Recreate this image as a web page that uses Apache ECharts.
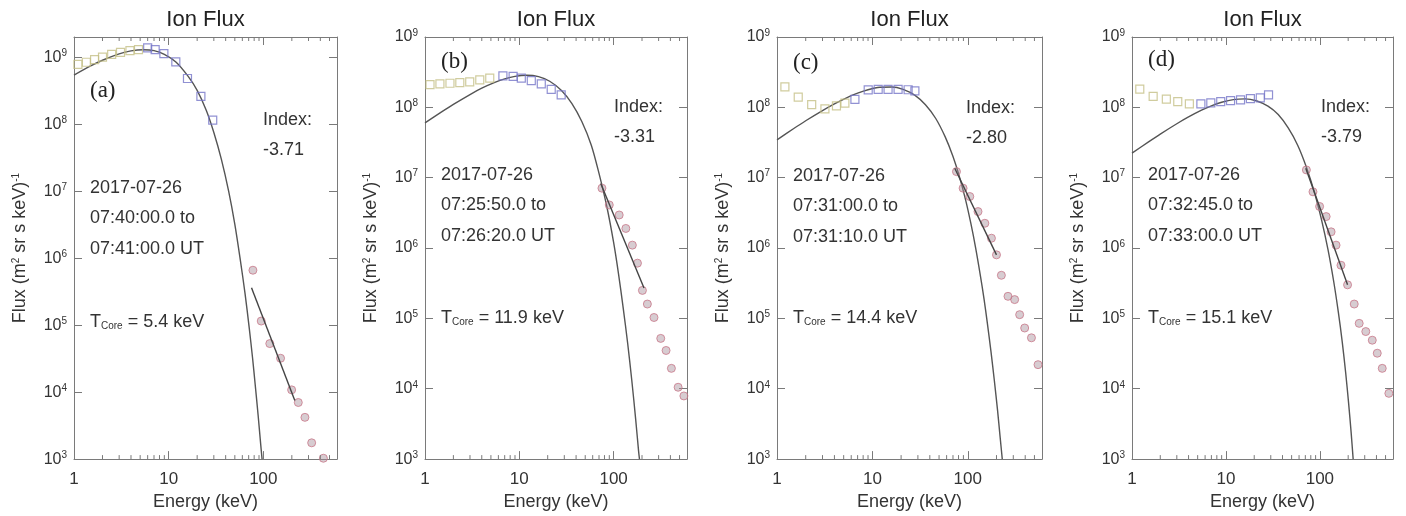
<!DOCTYPE html>
<html>
<head>
<meta charset="utf-8">
<title>Ion Flux</title>
<script src="https://cdn.jsdelivr.net/npm/echarts@6/dist/echarts.min.js"></script>
<style>
html, body { margin: 0; padding: 0; background: #fff; }
#chart { width: 1406px; height: 516px; }
</style>
</head>
<body>
<div id="chart"></div>
<script>
// ---- text of each panel ----
var panelTags = ['(a)', '(b)', '(c)', '(d)'];
var fitIndex = ['-3.71', '-3.31', '-2.80', '-3.79'];
var dayText = ['2017-07-26', '2017-07-26', '2017-07-26', '2017-07-26'];
var timeFrom = ['07:40:00.0 to', '07:25:50.0 to', '07:31:00.0 to', '07:32:45.0 to'];
var timeTo = ['07:41:00.0 UT', '07:26:20.0 UT', '07:31:10.0 UT', '07:33:00.0 UT'];
var tCore = ['5.4', '11.9', '14.4', '15.1'];

// tick labels
var energyLabels = [1, 10, 100];
var fluxExponents = [3, 4, 5, 6, 7, 8, 9];
var energyMinor = [2, 3, 4, 5, 6, 7, 8, 9, 20, 30, 40, 50, 60, 70, 80, 90, 200, 300, 400, 500];
var fluxMax = [2e9, 1e9, 1e9, 1e9];

// ---- data: [energy keV, flux] ----
// (a)
var lowA = [[1.1, 7.8e8], [1.35, 8.4e8], [1.65, 9.2e8], [2.0, 1.0e9], [2.5, 1.1e9], [3.1, 1.18e9], [3.9, 1.25e9], [4.8, 1.3e9]];
var midA = [[6.0, 1.38e9], [7.2, 1.3e9], [8.9, 1.13e9], [11.9, 8.5e8], [15.8, 4.8e8], [21.9, 2.6e8], [29.2, 1.15e8]];
var highA = [[77.6, 6.6e5], [95, 1.15e5], [117, 5.3e4], [152, 3.2e4], [199, 1.08e4], [234, 7.0e3], [275, 4.2e3], [324, 1.75e3], [431, 1.03e3]];
var fitA = [[75, 3.6e5], [215, 7.5e3]];
var curveA = [[1, 5.4e8], [1.5, 7.4e8], [2, 9.0e8], [3, 1.12e9], [4, 1.24e9], [5.4, 1.29e9], [7, 1.25e9], [9, 1.1e9], [12, 8.4e8], [16, 5.2e8], [20, 3.2e8], [25, 1.6e8], [30, 7.5e7], [36, 3.0e7], [43, 1.0e7], [50, 3.2e6], [57, 9.6e5], [64, 3.0e5], [71, 9.0e4], [77, 3.2e4], [82, 1.3e4], [88, 4.6e3], [94, 1.6e3], [97, 1.0e3]];
// (b)
var lowB = [[1.13, 2.1e8], [1.44, 2.15e8], [1.84, 2.2e8], [2.34, 2.25e8], [2.98, 2.3e8], [3.81, 2.45e8], [4.86, 2.6e8]];
var midB = [[6.7, 2.8e8], [8.6, 2.75e8], [10.5, 2.6e8], [13.4, 2.4e8], [17.1, 2.15e8], [21.8, 1.8e8], [27.8, 1.5e8]];
var highB = [[75.2, 7.1e6], [89.9, 4.1e6], [114.6, 2.95e6], [134.8, 1.9e6], [158, 1.1e6], [179, 6.1e5], [202, 2.5e5], [228, 1.6e5], [268, 1.03e5], [316, 5.2e4], [360, 3.5e4], [410, 1.95e4], [483, 1.05e4], [556, 7.9e3]];
var fitB = [[73, 8.3e6], [210, 2.7e5]];
var curveB = [[1, 6.0e7], [1.5, 8.6e7], [2, 1.1e8], [3, 1.52e8], [4, 1.87e8], [5.5, 2.26e8], [7, 2.54e8], [9, 2.76e8], [12, 2.86e8], [16, 2.73e8], [21, 2.35e8], [28, 1.74e8], [36, 1.14e8], [46, 6.3e7], [58, 2.9e7], [70, 1.15e7], [85, 3.8e6], [100, 1.2e6], [113, 4.2e5], [126, 1.45e5], [141, 4.4e4], [156, 1.3e4], [171, 3.8e3], [184, 1.3e3], [188, 1.0e3]];
// (c)
var lowC = [[1.21, 1.95e8], [1.67, 1.4e8], [2.31, 1.09e8], [3.18, 9.5e7], [4.2, 1.05e8], [5.15, 1.15e8]];
var midC = [[6.56, 1.3e8], [9.04, 1.77e8], [11.5, 1.8e8], [14.6, 1.8e8], [18.6, 1.8e8], [23.7, 1.78e8], [27.9, 1.72e8]];
var highC = [[76.1, 1.22e7], [89.3, 7.1e6], [105, 5.4e6], [128, 3.3e6], [151, 2.25e6], [177, 1.38e6], [200, 8.0e5], [225, 4.1e5], [264, 2.06e5], [310, 1.85e5], [350, 1.13e5], [395, 7.3e4], [465, 5.3e4], [545, 2.2e4]];
var fitC = [[73, 1.36e7], [200, 8.0e5]];
var curveC = [[1, 3.45e7], [1.5, 5.0e7], [2, 6.45e7], [3, 9.0e7], [4, 1.12e8], [5.5, 1.39e8], [7, 1.59e8], [9, 1.78e8], [12, 1.93e8], [16, 1.95e8], [21, 1.8e8], [28, 1.48e8], [36, 1.09e8], [46, 7.0e7], [58, 3.8e7], [70, 2.0e7], [82, 1.02e7], [95, 4.8e6], [108, 2.2e6], [121, 1.0e6], [135, 4.2e5], [148, 1.9e5], [160, 8.8e4], [175, 3.4e4], [190, 1.3e4], [205, 5.0e3], [218, 2.1e3], [230, 1.0e3]];
// (d)
var lowD = [[1.21, 1.82e8], [1.68, 1.43e8], [2.32, 1.31e8], [3.07, 1.21e8], [4.08, 1.12e8]];
var midD = [[5.41, 1.12e8], [6.9, 1.16e8], [8.8, 1.21e8], [11.2, 1.25e8], [14.3, 1.28e8], [18.2, 1.33e8], [23.2, 1.36e8], [28.4, 1.5e8]];
var highD = [[71.8, 1.29e7], [84.4, 6.3e6], [99.3, 3.9e6], [116.6, 2.8e6], [131.6, 1.7e6], [148.6, 1.1e6], [167.6, 5.7e5], [197, 3.0e5], [232, 1.6e5], [262, 8.5e4], [308, 6.5e4], [361, 4.9e4], [408, 3.2e4], [461, 1.95e4], [542, 8.6e3]];
var fitD = [[70.7, 1.36e7], [197, 3.0e5]];
var curveD = [[1, 2.23e7], [1.5, 3.23e7], [2, 4.17e7], [3, 5.85e7], [4, 7.3e7], [5.5, 9.1e7], [7, 1.05e8], [9, 1.18e8], [12, 1.29e8], [16, 1.32e8], [21, 1.24e8], [28, 1.04e8], [36, 7.9e7], [46, 5.1e7], [58, 2.9e7], [72, 1.4e7], [88, 6.0e6], [105, 2.4e6], [122, 9.5e5], [140, 3.4e5], [157, 1.24e5], [173, 4.6e4], [188, 1.7e4], [202, 6.3e3], [215, 2.4e3], [226, 1.0e3]];

var lowSets = [lowA, lowB, lowC, lowD];
var midSets = [midA, midB, midC, midD];
var highSets = [highA, highB, highC, highD];
var fitSets = [fitA, fitB, fitC, fitD];
var curveSets = [curveA, curveB, curveC, curveD];

// ---- layout ----
var gridLeft = [74, 425, 777, 1132];
var gridWidth = [263, 262, 265, 261];
var gridTop = 37;
var gridHeight = 423;
var textShift = [13, 0, 1, 0];       // panel (a) notes sit a bit lower
var tagY = [91, 62, 63, 60];

var axisColor = '#7a7a7a';
var textColor = '#333';
var fontName = '"Liberation Sans", Arial, sans-serif';

function isPow10(v, list) {
	var e = Math.round(Math.log10(v));
	return Math.abs(v - Math.pow(10, e)) / v < 1e-6 && list.indexOf(e) >= 0;
}

var grids = [], xAxes = [], yAxes = [], series = [], graphics = [];

for (var i = 0; i < 4; i++)
{
	grids.push({ left: gridLeft[i], top: gridTop, width: gridWidth[i], height: gridHeight, show: false });

	// bottom and top energy axes
	xAxes.push({
		type: 'log', gridIndex: i, min: 1, max: 600, position: 'bottom',
		name: 'Energy (keV)', nameLocation: 'middle', nameGap: 29,
		nameTextStyle: { fontFamily: fontName, fontSize: 18, color: textColor },
		axisLine: { lineStyle: { color: axisColor, width: 1 } },
		axisTick: { inside: true, length: 8, lineStyle: { color: axisColor } },
		axisLabel: {
			margin: 12, fontFamily: fontName, fontSize: 17, color: textColor,
			formatter: function(v) { return energyLabels.indexOf(Math.round(v)) >= 0 && Math.abs(v - Math.round(v)) < 1e-6 ? String(Math.round(v)) : ''; }
		},
		splitLine: { show: false }
	});
	xAxes.push({
		type: 'log', gridIndex: i, min: 1, max: 600, position: 'top',
		axisLine: { lineStyle: { color: axisColor, width: 1 } },
		axisTick: { inside: true, length: 8, lineStyle: { color: axisColor } },
		axisLabel: { show: false }, splitLine: { show: false }
	});

	// left and right flux axes
	yAxes.push({
		type: 'log', gridIndex: i, min: 1e3, max: fluxMax[i], position: 'left',
		name: '{t|Flux (m}{sup|2}{t| sr s keV)}{sup|-1}', nameLocation: 'middle', nameGap: 44,
		nameTextStyle: {
			fontFamily: fontName, color: textColor,
			rich: {
				t: { fontFamily: fontName, fontSize: 18, color: textColor },
				sup: { fontFamily: fontName, fontSize: 10, color: textColor, verticalAlign: 'top', padding: [0, 0, 9, 0] }
			}
		},
		axisLine: { lineStyle: { color: axisColor, width: 1 } },
		axisTick: { inside: true, length: 8, lineStyle: { color: axisColor } },
		axisLabel: {
			margin: 7,
			formatter: function(v) {
				if (!isPow10(v, fluxExponents)) return '';
				return '{b|10}{sup|' + Math.round(Math.log10(v)) + '}';
			},
			rich: {
				b: { fontFamily: fontName, fontSize: 16, color: textColor },
				sup: { fontFamily: fontName, fontSize: 10, color: textColor, verticalAlign: 'top', padding: [0, 0, 8, 0] }
			}
		},
		splitLine: { show: false }
	});
	yAxes.push({
		type: 'log', gridIndex: i, min: 1e3, max: fluxMax[i], position: 'right',
		axisLine: { lineStyle: { color: axisColor, width: 1 } },
		axisTick: { inside: true, length: 8, lineStyle: { color: axisColor } },
		axisLabel: { show: false }, splitLine: { show: false }
	});

	var xi = 2 * i, yi = 2 * i;

	// minor energy ticks on bottom and top edges
	series.push({
		type: 'custom', xAxisIndex: xi, yAxisIndex: yi, silent: true, z: 5,
		data: energyMinor.map(function(e) { return [e, 1e3]; }),
		renderItem: (function(yTop) {
			return function(params, api) {
				var b = api.coord([api.value(0), 1e3]);
				var t = api.coord([api.value(0), yTop]);
				var st = { stroke: axisColor, lineWidth: 1 };
				return { type: 'group', children: [
					{ type: 'line', shape: { x1: b[0], y1: b[1], x2: b[0], y2: b[1] - 4 }, style: st },
					{ type: 'line', shape: { x1: t[0], y1: t[1], x2: t[0], y2: t[1] + 4 }, style: st }
				] };
			};
		})(fluxMax[i])
	});

	series.push({
		name: 'fit', type: 'line', xAxisIndex: xi, yAxisIndex: yi, data: curveSets[i],
		smooth: 0.3, showSymbol: false, clip: true, z: 2,
		lineStyle: { color: '#555', width: 1.4 }
	});
	series.push({
		name: 'low', type: 'scatter', xAxisIndex: xi, yAxisIndex: yi, data: lowSets[i],
		symbol: 'rect', symbolSize: 8, z: 3,
		itemStyle: { color: 'rgba(255,255,255,0)', borderColor: '#c4bf86', borderWidth: 1.2 }
	});
	series.push({
		name: 'mid', type: 'scatter', xAxisIndex: xi, yAxisIndex: yi, data: midSets[i],
		symbol: 'rect', symbolSize: 8, z: 3,
		itemStyle: { color: 'rgba(255,255,255,0)', borderColor: '#7575c8', borderWidth: 1.2 }
	});
	series.push({
		name: 'high', type: 'scatter', xAxisIndex: xi, yAxisIndex: yi, data: highSets[i],
		symbol: 'circle', symbolSize: 8, z: 3,
		itemStyle: { color: 'rgba(165,140,150,0.55)', borderColor: '#c9788a', borderWidth: 1 }
	});
	series.push({
		name: 'power law', type: 'line', xAxisIndex: xi, yAxisIndex: yi, data: fitSets[i],
		showSymbol: false, z: 4,
		lineStyle: { color: '#444', width: 1.4 }
	});

	// panel notes
	var cx = gridLeft[i] + gridWidth[i] / 2;
	var tx = gridLeft[i] + 16;
	var ix = gridLeft[i] + 189;
	var sy = textShift[i];
	var noteFont = { fontFamily: fontName, fontSize: 18, fill: textColor };

	graphics.push({ type: 'text', x: cx, y: 20, style: { text: 'Ion Flux', fontFamily: fontName, fontSize: 22, fill: '#222', align: 'center', verticalAlign: 'middle' } });
	graphics.push({ type: 'text', x: tx, y: tagY[i], style: { text: panelTags[i], fontFamily: '"Liberation Serif", "DejaVu Serif", serif', fontSize: 23, fill: '#222', verticalAlign: 'middle' } });
	graphics.push({ type: 'text', x: ix, y: 107 + sy, style: Object.assign({ text: 'Index:', verticalAlign: 'middle' }, noteFont) });
	graphics.push({ type: 'text', x: ix, y: 137 + sy, style: Object.assign({ text: fitIndex[i], verticalAlign: 'middle' }, noteFont) });
	graphics.push({ type: 'text', x: tx, y: 175 + sy, style: Object.assign({ text: dayText[i], verticalAlign: 'middle' }, noteFont) });
	graphics.push({ type: 'text', x: tx, y: 205 + sy, style: Object.assign({ text: timeFrom[i], verticalAlign: 'middle' }, noteFont) });
	graphics.push({ type: 'text', x: tx, y: 236 + sy, style: Object.assign({ text: timeTo[i], verticalAlign: 'middle' }, noteFont) });
	graphics.push({ type: 'text', x: tx, y: 318 + sy * 0.3, style: {
		text: '{n|T}{s|Core}{n| = ' + tCore[i] + ' keV}', verticalAlign: 'middle',
		rich: {
			n: { fontFamily: fontName, fontSize: 18, fill: textColor, color: textColor },
			s: { fontFamily: fontName, fontSize: 10, fill: textColor, color: textColor, verticalAlign: 'bottom', padding: [7, 0, 0, 0] }
		}
	} });
}

var chart = echarts.init(document.getElementById('chart'), null, { renderer: 'canvas' });
chart.setOption({
	backgroundColor: '#fff',
	animation: false,
	grid: grids,
	xAxis: xAxes,
	yAxis: yAxes,
	series: series,
	graphic: graphics
});
</script>
</body>
</html>
